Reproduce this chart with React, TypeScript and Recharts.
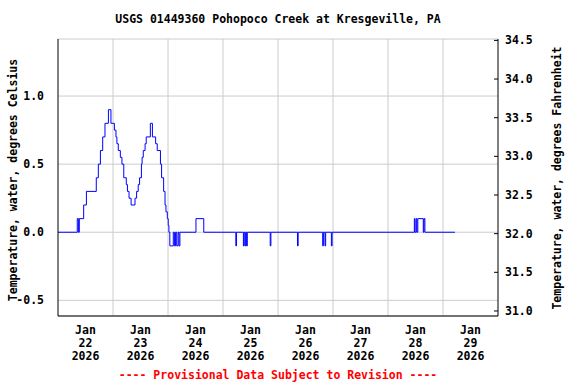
import { LineChart, Line, XAxis, YAxis, CartesianGrid, ReferenceLine } from "recharts";

document.body.style.margin = "0";

// hours after Jan 22 2026 00:00 where the reading changes, and the reading (deg C)
const hours = [
  0, 8.4, 8.9, 9.3, 11.2, 12.4, 16.7, 17.6, 18.5, 19.5, 20.5, 22.0, 23.1, 24.6, 25.3, 25.7,
  26.3, 27.2, 27.9, 28.7, 29.8, 30.3, 31.0, 31.9, 33.6, 34.3, 35.0, 35.6, 36.4, 36.7, 37.2,
  38.0, 38.5, 40.3, 41.2, 42.6, 43.3, 44.7, 45.2, 46.1, 46.7, 47.1, 47.7, 48.1, 48.4, 48.8,
  50.3, 50.8, 51.3, 51.8, 52.4, 52.8, 53.2, 60.2, 63.6, 77.6, 77.9, 80.9, 81.2, 81.6, 81.9,
  82.3, 82.6, 92.6, 92.9, 104.5, 104.8, 115.5, 115.8, 116.5, 116.8, 119.3, 119.6, 155.5,
  155.8, 156.3, 156.6, 157.0, 159.4, 159.7, 160.1, 173.2,
];
const tempC = [
  0, 0.1, 0, 0.1, 0.2, 0.3, 0.4, 0.5, 0.6, 0.7, 0.8, 0.9, 0.8, 0.75, 0.7, 0.65,
  0.6, 0.55, 0.5, 0.4, 0.35, 0.3, 0.25, 0.2, 0.25, 0.3, 0.35, 0.4, 0.5, 0.55, 0.6,
  0.65, 0.7, 0.8, 0.7, 0.65, 0.6, 0.5, 0.4, 0.3, 0.2, 0.15, 0.1, 0.05, 0, -0.1,
  0, -0.1, 0, -0.1, 0, -0.1, 0, 0.1, 0, -0.1, 0, -0.1, 0, -0.1, 0,
  -0.1, 0, -0.1, 0, -0.1, 0, -0.1, 0, -0.1, 0, -0.1, 0, 0.1,
  0, 0.1, 0, 0.1, 0, 0.1, 0, 0,
];

const dayLabels = ["22", "23", "24", "25", "26", "27", "28", "29"];
const labelHours = [12, 36, 60, 84, 108, 132, 156, 180];
const midnightHours = [24, 48, 72, 96, 120, 144, 168];
const celsiusTicks = [-0.5, 0, 0.5, 1.0];
const fahrenheitTicks = [31.0, 31.5, 32.0, 32.5, 33.0, 33.5, 34.0, 34.5];

const data = hours.map((h, i) => ({ h, t: tempC[i] }));

const FONT = "'DejaVu Sans Mono', monospace";
const textStyle = { fontFamily: FONT, fontSize: 11.5, fontWeight: "bold" as const };

const DateTick = (props: any) => {
  const { x, y, index } = props;
  return (
    <text x={x} y={y} textAnchor="middle" fill="#000" style={textStyle}>
      <tspan x={x} dy={10}>Jan</tspan>
      <tspan x={x} dy={13}>{dayLabels[index]}</tspan>
      <tspan x={x} dy={13}>2026</tspan>
    </text>
  );
};

const RightTick = (props: any) => {
  const { x, y, payload } = props;
  return (
    <g>
      <line x1={x - 11} x2={x - 7} y1={y} y2={y} stroke="#000" />
      <text x={x} y={y + 4} textAnchor="start" fill="#000" style={textStyle}>
        {payload.value.toFixed(1)}
      </text>
    </g>
  );
};

export default function App() {
  return (
    <div style={{ position: "relative", width: 576, height: 384, background: "#fff" }}>
      <div style={{ ...textStyle, position: "absolute", left: 0, width: 556, top: 12, textAlign: "center" }}>
        USGS 01449360 Pohopoco Creek at Kresgeville, PA
      </div>
      <LineChart
        width={576}
        height={384}
        data={data}
        margin={{ top: 39, right: 0, bottom: 0, left: 0 }}
      >
        <CartesianGrid vertical={false} stroke="#cccccc" yAxisId="c" />
        {midnightHours.map((h) => (
          <ReferenceLine key={h} x={h} yAxisId="c" stroke="#cccccc" />
        ))}
        <XAxis
          dataKey="h"
          type="number"
          domain={[0, 192]}
          ticks={labelHours}
          interval={0}
          height={68}
          tickLine={false}
          axisLine={{ stroke: "#000" }}
          tick={<DateTick />}
          allowDataOverflow
        />
        <XAxis
          xAxisId="top"
          orientation="top"
          type="number"
          domain={[0, 192]}
          height={0}
          tick={false}
          tickLine={false}
          axisLine={{ stroke: "#000" }}
        />
        <YAxis
          yAxisId="c"
          type="number"
          domain={[-0.615, 1.419]}
          ticks={celsiusTicks}
          width={58}
          tickLine={false}
          tickMargin={8}
          axisLine={{ stroke: "#000" }}
          tickFormatter={(v: number) => v.toFixed(1)}
          tick={{ fill: "#000", ...textStyle }}
          allowDataOverflow
        />
        <YAxis
          yAxisId="f"
          orientation="right"
          type="number"
          domain={[30.935, 34.518]}
          ticks={fahrenheitTicks}
          width={78}
          tickSize={0}
          tickMargin={7}
          axisLine={{ stroke: "#000" }}
          tick={<RightTick />}
          allowDataOverflow
        />
        <Line
          yAxisId="c"
          dataKey="t"
          type="stepAfter"
          stroke="#0000ff"
          strokeWidth={1}
          dot={false}
          isAnimationActive={false}
        />
      </LineChart>
      <div
        style={{
          ...textStyle,
          position: "absolute",
          left: 13,
          top: 180,
          transform: "translate(-50%, -50%) rotate(-90deg)",
          whiteSpace: "nowrap",
        }}
      >
        Temperature, water, degrees Celsius
      </div>
      <div
        style={{
          ...textStyle,
          position: "absolute",
          left: 557,
          top: 178,
          transform: "translate(-50%, -50%) rotate(-90deg)",
          whiteSpace: "nowrap",
        }}
      >
        Temperature, water, degrees Fahrenheit
      </div>
      <div
        style={{
          ...textStyle,
          position: "absolute",
          left: 0,
          width: 556,
          top: 368,
          textAlign: "center",
          color: "#ff0000",
        }}
      >
        ---- Provisional Data Subject to Revision ----
      </div>
    </div>
  );
}
